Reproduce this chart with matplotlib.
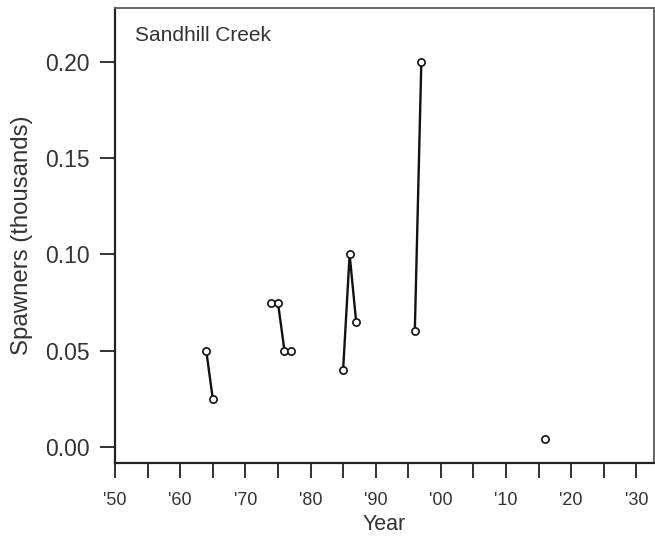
import matplotlib
matplotlib.use("Agg")
import matplotlib.pyplot as plt
import numpy as np
import pandas as pd
from matplotlib.ticker import MultipleLocator, FixedLocator

years = [1964, 1965, 1974, 1975, 1976, 1977, 1985, 1986, 1987, 1996, 1997, 2016]
spawners = [0.05, 0.025, 0.075, 0.075, 0.05, 0.05, 0.04, 0.10, 0.065, 0.06, 0.20, 0.004]
title = "Sandhill Creek"
xtick_years = list(range(1950, 2031, 10))
xtick_labels = ["'50", "'60", "'70", "'80", "'90", "'00", "'10", "'20", "'30"]
ytick_vals = [0.00, 0.05, 0.10, 0.15, 0.20]

plt.rcParams['font.family'] = ['Liberation Sans', 'DejaVu Sans']

s = pd.Series(spawners, index=years).reindex(range(min(years), max(years) + 1))

W, H = 655, 538
fig = plt.figure(figsize=(W / 100, H / 100), dpi=100)
ax = fig.add_axes([115/W, (H-462.5)/H, (654-115)/W, (462.5-8)/H])

ax.plot(s.index, s.values, color='#111111', lw=1.7, marker='o', ms=5.2,
        mfc='white', mec='#111111', mew=1.2, solid_capstyle='butt', zorder=3)

ax.set_xlim(1950, 2032.7)
ax.set_ylim(-0.0082, 0.2282)

ax.xaxis.set_major_locator(FixedLocator(xtick_years))
ax.set_xticklabels(xtick_labels)
ax.xaxis.set_minor_locator(MultipleLocator(5))
ax.set_yticks(ytick_vals)
ax.set_yticklabels([f"{v:.2f}" for v in ytick_vals])

ax.tick_params(axis='x', which='both', direction='out', length=11, width=1.4,
               color='#333333', labelsize=13, pad=10, labelcolor='#333333')
ax.tick_params(axis='y', which='both', direction='out', length=11, width=1.4,
               color='#333333', labelsize=16.5, pad=7, labelcolor='#333333')

for side in ['left', 'bottom']:
    ax.spines[side].set_color('#222222')
    ax.spines[side].set_linewidth(1.6)
for side in ['top', 'right']:
    ax.spines[side].set_color('#666666')
    ax.spines[side].set_linewidth(1.4)

ax.set_xlabel("Year", fontsize=15.5, color='#333333', labelpad=4)
ax.set_ylabel("Spawners (thousands)", fontsize=17.3, color='#333333', labelpad=9)

fig.text(135/W, 1 - 40.7/H, title, fontsize=15, color='#333333',
         ha='left', va='baseline')

fig.savefig("out.png", dpi=100)
